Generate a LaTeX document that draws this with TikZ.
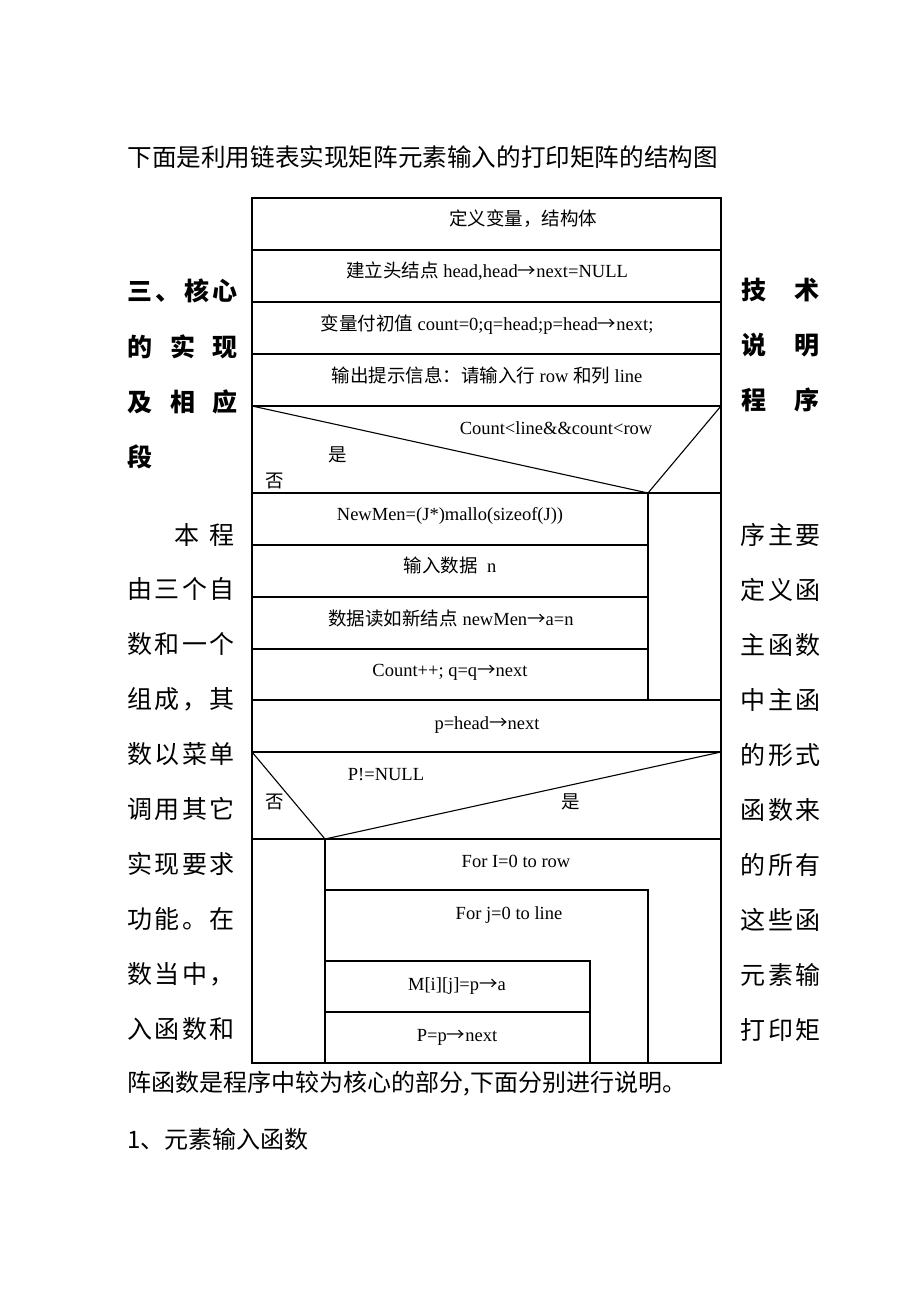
\documentclass[tikz,border=0pt]{standalone}
\usepackage{fontspec}
\setmainfont{Liberation Serif}
\newfontfamily\cjk{Noto Sans CJK SC}
\newcommand*{\spreadline}[2]{\makebox[#1][s]{#2}}
\newcommand*{\ptrto}{{\cjk →}}

\begin{document}
\begin{tikzpicture}[
        x=1pt,y=-1pt,line width=1.1pt,
        celltext/.style={inner sep=0pt,text height=13.5pt,text depth=1pt,font=\fontsize{18.5}{21}\selectfont},
        sidetext/.style={anchor=west,inner sep=0pt,font=\cjk\fontsize{25}{28}\selectfont},
        headtext/.style={sidetext,font=\cjk\bfseries\fontsize{25}{28}\selectfont},
        ]
        \useasboundingbox (0,0) rectangle (920,1300);

        \node[sidetext,font=\cjk\fontsize{24.6}{28}\selectfont] (caption) at (127,157) {下面是利用链表实现矩阵元素输入的打印矩阵的结构图};

        % chart
        \draw (252,198) rectangle (721,1063);
        \foreach \y in {250,302,354,406,493,700,752,839}
          \draw (252,\y) -- (721,\y);
        \coordinate (apex1) at (648,493);
        \coordinate (apex2) at (325,839);
        \draw (252,406) -- (apex1) -- (721,406);
        \foreach \y in {545,597,649}
          \draw (252,\y) -- (648,\y);
        \draw (apex1) -- (648,700);
        \draw (252,752) -- (apex2) -- (721,752);
        \draw (apex2) -- (325,1063);
        \draw (325,890) -- (648,890) -- (648,1063);
        \draw (325,961) -- (590,961) -- (590,1063);
        \draw (325,1012) -- (590,1012);

        \node[celltext] (defvar)   at (523,219) {\cjk 定义变量，结构体};
        \node[celltext] (headnode) at (487,271) {{\cjk 建立头结点} head,head\ptrto next=NULL};
        \node[celltext] (initvar)  at (487,324) {{\cjk 变量付初值} count=0;q=head;p=head\ptrto next;};
        \node[celltext] (prompt)   at (487,376) {{\cjk 输出提示信息：请输入行} row {\cjk 和列} line};
        \node[celltext] (cond1)    at (556,428) {Count<line\&\&count<row};
        \node[celltext] (yes1)     at (338,455) {\cjk 是};
        \node[celltext] (no1)      at (275,481) {\cjk 否};
        \node[celltext] (newmem)   at (450,514) {NewMen=(J*)mallo(sizeof(J))};
        \node[celltext] (readn)    at (450,566) {{\cjk 输入数据} \ n};
        \node[celltext] (store)    at (451,619) {{\cjk 数据读如新结点} newMen\ptrto a=n};
        \node[celltext] (countinc) at (450,670) {Count++; q=q\ptrto next};
        \node[celltext] (resetp)   at (487,723) {p=head\ptrto next};
        \node[celltext] (cond2)    at (386,774) {P!=NULL};
        \node[celltext] (no2)      at (275,802) {\cjk 否};
        \node[celltext] (yes2)     at (571,802) {\cjk 是};
        \node[celltext] (fori)     at (516,861) {For I=0 to row};
        \node[celltext] (forj)     at (509,913) {For j=0 to line};
        \node[celltext] (assign)   at (457,984) {M[i][j]=p\ptrto a};
        \node[celltext] (advance)  at (457,1035) {P=p\ptrto next};

        % text round the chart
        \node[headtext] (sec1) at (127,291) {\spreadline{110pt}{三\hfill 、\hfill 核\hfill 心}};
        \node[headtext] (sec2) at (127,347) {\spreadline{110pt}{的\hfill 实\hfill 现}};
        \node[headtext] (sec3) at (127,402) {\spreadline{110pt}{及\hfill 相\hfill 应}};
        \node[headtext] (sec4) at (127,457) {段};
        \node[headtext] (sec5) at (741,290) {\spreadline{78pt}{技\hfill 术}};
        \node[headtext] (sec6) at (741,345) {\spreadline{78pt}{说\hfill 明}};
        \node[headtext] (sec7) at (741,400) {\spreadline{78pt}{程\hfill 序}};

        \node[sidetext] (left0) at (174,535) {\spreadline{60pt}{本\hfill 程}};
        \foreach \txt [count=\i] in {由\hfill 三\hfill 个\hfill 自,数\hfill 和\hfill 一\hfill 个,组\hfill 成\hfill ，\hfill 其,
            数\hfill 以\hfill 菜\hfill 单,调\hfill 用\hfill 其\hfill 它,实\hfill 现\hfill 要\hfill 求,
            功\hfill 能\hfill 。\hfill 在,数\hfill 当\hfill 中\hfill ，,入\hfill 函\hfill 数\hfill 和}
          \node[sidetext] (left\i) at (127,589+55*\i-55) {\spreadline{107pt}{\txt}};
        \foreach \txt [count=\i] in {序\hfill 主\hfill 要,定\hfill 义\hfill 函,主\hfill 函\hfill 数,
            中\hfill 主\hfill 函,的\hfill 形\hfill 式,函\hfill 数\hfill 来,的\hfill 所\hfill 有,
            这\hfill 些\hfill 函,元\hfill 素\hfill 输,打\hfill 印\hfill 矩}
          \node[sidetext] (right\i) at (740,535+55*\i-55) {\spreadline{80pt}{\txt}};

        \node[sidetext,font=\cjk\fontsize{24}{28}\selectfont] (after1) at (127,1084) {阵函数是程序中较为核心的部分,下面分别进行说明。};
        \node[sidetext,font=\cjk\fontsize{24}{28}\selectfont] (after2) at (127,1139) {1、元素输入函数};
      \end{tikzpicture}
\end{document}
